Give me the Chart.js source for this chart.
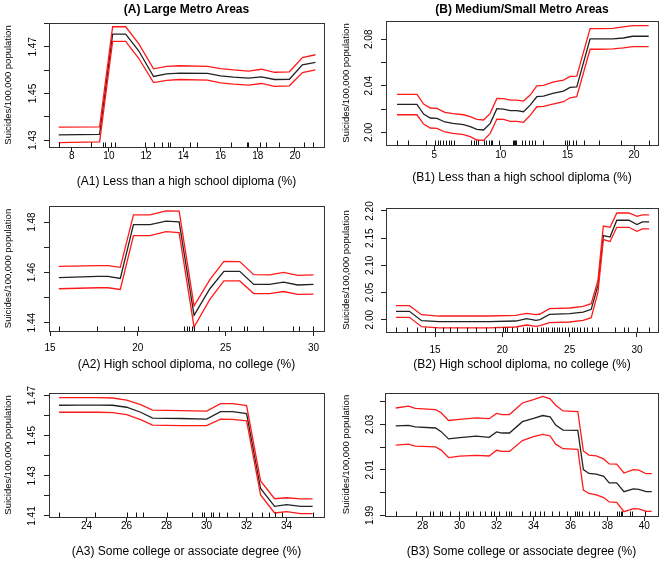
<!DOCTYPE html>
<html><head><meta charset="utf-8">
<script src="https://cdn.jsdelivr.net/npm/chart.js@4.4.1/dist/chart.umd.min.js"></script>
<style>
html,body{margin:0;padding:0;background:#fff;}
#wrap{position:relative;width:666px;height:561px;overflow:hidden;background:#fff;}
canvas{position:absolute;}
</style></head><body><div id="wrap"></div>
<script>
// ---------- DATA ----------
const yAxisTitle = 'Suicides/100,000 population';

// (A1) Large metro, less than high school diploma
const A1_x   = [7.3, 9.5, 10.2, 10.9, 11.6, 12.4, 13.1, 13.8, 15.3, 16.0, 16.7, 17.5, 18.2, 18.9, 19.7, 20.4, 21.1];
const A1_mid = [1.4323, 1.4325, 1.4754, 1.4754, 1.4683, 1.4573, 1.4584, 1.4587, 1.4586, 1.4576, 1.4570, 1.4566, 1.4571, 1.4560, 1.4561, 1.4623, 1.4633];
const A1_up  = [1.4356, 1.4357, 1.4786, 1.4786, 1.4714, 1.4606, 1.4616, 1.4619, 1.4616, 1.4607, 1.4601, 1.4596, 1.4604, 1.4591, 1.4593, 1.4654, 1.4666];
const A1_lo  = [1.4290, 1.4293, 1.4723, 1.4723, 1.4651, 1.4547, 1.4556, 1.4560, 1.4557, 1.4546, 1.4540, 1.4536, 1.4543, 1.4531, 1.4533, 1.4590, 1.4601];
const A1_rug = [7.32, 9.02, 9.70, 9.79, 10.10, 10.33, 11.94, 12.41, 12.87, 13.20, 13.29, 14.36, 14.72, 16.55, 17.44, 17.50, 18.12, 18.43, 19.15, 20.49, 20.99];
const A1_xTicks = [8, 10, 12, 14, 16, 18, 20];
const A1_yTicks = [1.43, 1.44, 1.45, 1.46, 1.47, 1.48];
const A1_yLabels = [1.43, 1.45, 1.47];

// (B1) Medium/small metro, less than high school diploma
const B1_x   = [2.2, 3.7, 4.2, 4.7, 5.2, 5.8, 6.4, 7.2, 7.7, 8.2, 8.7, 9.2, 9.7, 10.2, 10.7, 11.2, 11.7, 12.2, 12.7, 13.2, 13.9, 14.7, 15.2, 15.7, 16.7, 17.4, 18.4, 19.2, 19.9, 21.1];
const B1_mid = [2.0240, 2.0240, 2.0157, 2.0123, 2.0120, 2.0089, 2.0077, 2.0066, 2.0049, 2.0026, 2.0020, 2.0077, 2.0203, 2.0200, 2.0186, 2.0186, 2.0177, 2.0234, 2.0306, 2.0311, 2.0334, 2.0354, 2.0386, 2.0391, 2.0803, 2.0803, 2.0803, 2.0811, 2.0826, 2.0826];
const B1_up  = [2.0326, 2.0326, 2.0243, 2.0209, 2.0206, 2.0171, 2.0160, 2.0151, 2.0134, 2.0111, 2.0106, 2.0163, 2.0291, 2.0289, 2.0277, 2.0277, 2.0269, 2.0320, 2.0400, 2.0403, 2.0431, 2.0449, 2.0480, 2.0483, 2.0891, 2.0891, 2.0894, 2.0906, 2.0917, 2.0917];
const B1_lo  = [2.0151, 2.0151, 2.0071, 2.0037, 2.0034, 2.0003, 1.9991, 1.9980, 1.9963, 1.9934, 1.9931, 1.9991, 2.0114, 2.0111, 2.0094, 2.0094, 2.0086, 2.0146, 2.0220, 2.0223, 2.0243, 2.0263, 2.0297, 2.0306, 2.0714, 2.0714, 2.0717, 2.0726, 2.0737, 2.0737];
const B1_rug = [2.2, 3.0, 4.37, 5.08, 5.25, 5.45, 5.65, 5.85, 6.07, 6.25, 6.5, 7.75, 7.95, 8.1, 8.25, 8.7, 8.9, 9.08, 9.25, 9.33, 9.83, 10.9, 11.0, 11.08, 11.15, 11.58, 11.83, 12.13, 12.35, 12.58, 13.13, 14.85, 14.95, 15.15, 15.38, 15.63, 16.25, 17.38, 19.05, 21.1];
const B1_xTicks = [5, 10, 15, 20];
const B1_yTicks = [2.00, 2.02, 2.04, 2.06, 2.08];
const B1_yLabels = [2.00, 2.04, 2.08];

// (A2) Large metro, high school diploma, no college
const A2_x   = [15.5, 17.7, 18.3, 19.0, 19.75, 20.7, 21.6, 22.35, 23.2, 24.1, 24.9, 25.8, 26.6, 27.5, 28.3, 29.1, 30.0];
const A2_mid = [1.4579, 1.4584, 1.4584, 1.4576, 1.4790, 1.4790, 1.4804, 1.4801, 1.4429, 1.4535, 1.4604, 1.4604, 1.4552, 1.4552, 1.4561, 1.4550, 1.4552];
const A2_up  = [1.4624, 1.4627, 1.4627, 1.4620, 1.4829, 1.4829, 1.4845, 1.4844, 1.4467, 1.4571, 1.4644, 1.4643, 1.4591, 1.4590, 1.4600, 1.4588, 1.4590];
const A2_lo  = [1.4535, 1.4539, 1.4539, 1.4532, 1.4746, 1.4746, 1.4762, 1.4758, 1.4383, 1.4493, 1.4566, 1.4566, 1.4516, 1.4516, 1.4524, 1.4513, 1.4514];
const A2_rug = [15.5, 17.65, 19.2, 20.0, 22.65, 22.78, 22.9, 23.1, 23.2, 24.0, 24.63, 25.3, 26.06, 26.2, 27.13, 28.83, 29.15, 30.0];
const A2_xTicks = [15, 20, 25, 30];
const A2_yTicks = [1.44, 1.45, 1.46, 1.47, 1.48];
const A2_yLabels = [1.44, 1.46, 1.48];

// (B2) Medium/small metro, high school diploma, no college
const B2_x   = [12.1, 13.1, 14.0, 15.3, 17.3, 19.0, 21.0, 21.8, 22.5, 22.8, 23.5, 25.0, 26.0, 26.6, 27.1, 27.5, 28.0, 28.5, 29.4, 30.0, 30.4, 30.9];
const B2_mid = [2.0153, 2.0153, 1.9982, 1.9963, 1.9963, 1.9963, 1.9975, 2.0018, 1.9988, 2.0000, 2.0098, 2.0110, 2.0140, 2.0190, 2.0630, 2.1546, 2.1520, 2.1830, 2.1830, 2.1750, 2.1800, 2.1800];
const B2_up  = [2.0258, 2.0258, 2.0092, 2.0067, 2.0067, 2.0067, 2.0080, 2.0117, 2.0092, 2.0104, 2.0203, 2.0215, 2.0245, 2.0294, 2.0720, 2.1723, 2.1700, 2.1963, 2.1963, 2.1900, 2.1930, 2.1930];
const B2_lo  = [2.0043, 2.0043, 1.9870, 1.9850, 1.9850, 1.9850, 1.9865, 1.9902, 1.9877, 1.9890, 1.9945, 1.9957, 1.9988, 2.0037, 2.0500, 2.1472, 2.1440, 2.1700, 2.1700, 2.1626, 2.1670, 2.1670];
const B2_rug = [12.12, 12.92, 13.66, 14.28, 14.98, 15.6, 16.14, 16.64, 17.38, 18.08, 18.75, 19.44, 20.06, 20.18, 20.31, 20.75, 21.1, 21.55, 21.8, 21.97, 22.17, 22.54, 22.84, 23.04, 23.23, 23.41, 23.66, 23.85, 24.03, 24.2, 24.4, 24.65, 24.9, 25.14, 25.32, 25.52, 25.76, 26.06, 26.26, 26.63, 27.13, 28.37, 29.0, 29.36, 30.0, 30.9];
const B2_xTicks = [15, 20, 25, 30];
const B2_yTicks = [2.00, 2.05, 2.10, 2.15, 2.20];
const B2_yLabels = [2.00, 2.05, 2.10, 2.15, 2.20];

// (A3) Large metro, some college or associate degree
const A3_x   = [22.62, 23.6, 24.6, 25.3, 26.0, 26.7, 27.3, 28.7, 30.0, 30.7, 31.3, 32.0, 32.7, 33.4, 34.0, 34.7, 35.3];
const A3_mid = [1.4652, 1.4653, 1.4653, 1.4652, 1.4642, 1.4617, 1.4588, 1.4586, 1.4583, 1.4620, 1.4620, 1.4610, 1.4237, 1.4148, 1.4157, 1.4148, 1.4148];
const A3_up  = [1.4690, 1.4690, 1.4690, 1.4688, 1.4678, 1.4655, 1.4628, 1.4625, 1.4623, 1.4660, 1.4660, 1.4650, 1.4275, 1.4186, 1.4191, 1.4185, 1.4185];
const A3_lo  = [1.4617, 1.4617, 1.4617, 1.4615, 1.4605, 1.4580, 1.4553, 1.4550, 1.4550, 1.4583, 1.4582, 1.4574, 1.4205, 1.4115, 1.4122, 1.4112, 1.4112];
const A3_rug = [22.62, 24.42, 26.0, 26.45, 26.8, 28.0, 29.27, 29.75, 29.88, 30.24, 30.33, 30.62, 31.0, 31.62, 32.25, 32.75, 33.1, 33.4, 33.78, 35.33];
const A3_xTicks = [24, 26, 28, 30, 32, 34];
const A3_yTicks = [1.41, 1.42, 1.43, 1.44, 1.45, 1.46, 1.47];
const A3_yLabels = [1.41, 1.43, 1.45, 1.47];

// (B3) Medium/small metro, some college or associate degree
const B3_x   = [26.54, 27.23, 27.6, 28.7, 29.0, 29.4, 30.0, 30.9, 31.6, 32.0, 32.3, 32.7, 33.4, 34.0, 34.5, 34.9, 35.2, 35.6, 36.4, 36.7, 37.0, 37.4, 37.8, 38.1, 38.5, 38.9, 39.4, 39.7, 40.1, 40.4];
const B3_mid = [2.0293, 2.0296, 2.0289, 2.0284, 2.0268, 2.0236, 2.0242, 2.0248, 2.0243, 2.0267, 2.0262, 2.0262, 2.0312, 2.0326, 2.0339, 2.0333, 2.0297, 2.0275, 2.0274, 2.0101, 2.0084, 2.0081, 2.0071, 2.0043, 2.0043, 2.0004, 2.0016, 2.0014, 2.0004, 2.0004];
const B3_up  = [2.0372, 2.0380, 2.0370, 2.0365, 2.0351, 2.0317, 2.0322, 2.0329, 2.0325, 2.0348, 2.0343, 2.0343, 2.0394, 2.0409, 2.0423, 2.0412, 2.0384, 2.0359, 2.0356, 2.0183, 2.0165, 2.0161, 2.0148, 2.0126, 2.0125, 2.0086, 2.0101, 2.0099, 2.0083, 2.0083];
const B3_lo  = [2.0209, 2.0213, 2.0204, 2.0201, 2.0187, 2.0154, 2.0160, 2.0164, 2.0161, 2.0186, 2.0181, 2.0181, 2.0229, 2.0246, 2.0256, 2.0249, 2.0213, 2.0193, 2.0190, 2.0011, 1.9996, 1.9990, 1.9978, 1.9959, 1.9957, 1.9916, 1.9929, 1.9928, 1.9917, 1.9917];
const B3_rug = [26.53, 27.64, 28.39, 28.55, 28.96, 29.06, 29.5, 29.98, 30.32, 30.45, 30.75, 31.1, 31.35, 31.7, 31.85, 32.14, 32.53, 32.68, 32.8, 33.35, 33.8, 34.1, 34.35, 34.58, 35.0, 35.38, 35.8, 36.22, 36.34, 36.47, 36.62, 37.03, 37.3, 37.55, 38.52, 38.62, 38.72, 38.81, 39.2, 39.34, 40.02];
const B3_xTicks = [28, 30, 32, 34, 36, 38, 40];
const B3_yTicks = [1.99, 2.00, 2.01, 2.02, 2.03, 2.04];
const B3_yLabels = [1.99, 2.01, 2.03];

// ---------- RENDERING ----------
const FONT = '"Liberation Sans", Arial, Helvetica, sans-serif';
Chart.defaults.font.family = FONT;
Chart.defaults.color = '#000';
const wrap = document.getElementById('wrap');

function rPlugin(p) {
  return {
    id: 'rStyle',
    afterDatasetsDraw(chart) {
      const ctx = chart.ctx, a = chart.chartArea, xs = chart.scales.x, ys = chart.scales.y;
      ctx.save();
      ctx.strokeStyle = '#111'; ctx.lineWidth = 1;
      ctx.beginPath();
      for (const v of p.rug) {
        const px = Math.round(xs.getPixelForValue(v)) + 0.5;
        ctx.moveTo(px, a.bottom); ctx.lineTo(px, a.bottom - 4.5);
      }
      ctx.stroke();
      ctx.strokeStyle = '#333';
      ctx.strokeRect(Math.round(a.left) + 0.5, Math.round(a.top) + 0.5, Math.round(a.right - a.left), Math.round(a.bottom - a.top));
      ctx.fillStyle = '#000';
      ctx.font = '10px ' + FONT;
      ctx.textAlign = 'center'; ctx.textBaseline = 'middle';
      for (const v of p.yLabels) {
        const py = ys.getPixelForValue(v);
        ctx.save();
        ctx.translate(a.left - p.yLabelOffset, py);
        ctx.rotate(-Math.PI / 2);
        ctx.fillText(v.toFixed(2), 0, 0);
        ctx.restore();
      }
      ctx.restore();
    }
  };
}

function makePanel(p) {
  const cv = document.createElement('canvas');
  cv.width = p.cw; cv.height = p.ch;
  cv.style.left = p.cx + 'px'; cv.style.top = p.cy + 'px';
  cv.style.width = p.cw + 'px'; cv.style.height = p.ch + 'px';
  wrap.appendChild(cv);
  const yW = p.plot[0] - p.cx;
  const xH = p.cy + p.ch - p.plot[3];
  const titleH = p.title ? (12 * 1.2 + p.titlePad[0] + p.titlePad[1]) : 0;
  const pts = arr => p.x.map((v, i) => ({ x: v, y: arr[i] }));
  const ds = (arr, col) => ({ data: pts(arr), borderColor: col, borderWidth: 1.3, pointRadius: 0, tension: 0, fill: false });
  new Chart(cv, {
    type: 'line',
    data: { datasets: [ds(p.up, '#ff1a1a'), ds(p.lo, '#ff1a1a'), ds(p.mid, '#222')] },
    options: {
      responsive: false, animation: false, devicePixelRatio: 1,
      events: [],
      layout: { padding: { left: 0, right: p.cx + p.cw - p.plot[2], top: p.plot[1] - p.cy - titleH, bottom: 0 } },
      plugins: {
        legend: { display: false }, tooltip: { enabled: false },
        title: p.title ? { display: true, text: p.title, fullSize: false, color: '#000',
          font: { size: 12, weight: 'bold', lineHeight: 1.2 }, padding: { top: p.titlePad[0], bottom: p.titlePad[1] } } : { display: false }
      },
      scales: {
        x: {
          type: 'linear', min: p.xr[0], max: p.xr[1],
          afterBuildTicks: s => { s.ticks = p.xTicks.map(v => ({ value: v })); },
          afterFit: s => { s.height = xH; s.paddingLeft = 0; s.paddingRight = 0; },
          ticks: { font: { size: 10 }, color: '#000', padding: p.xTickPad, maxRotation: 0, minRotation: 0, autoSkip: false, callback: v => String(v) },
          grid: { drawOnChartArea: false, drawTicks: true, tickLength: 5, color: '#222', tickColor: '#222' },
          border: { display: false },
          title: { display: true, text: p.xTitle, color: '#000', font: { size: 12, lineHeight: 1 }, padding: { top: 0, bottom: p.xTitlePad } }
        },
        y: {
          type: 'linear', min: p.yr[0], max: p.yr[1],
          afterBuildTicks: s => { s.ticks = p.yTicks.map(v => ({ value: v })); },
          afterFit: s => { s.width = yW; s.paddingTop = 0; s.paddingBottom = 0; },
          ticks: { callback: () => '', padding: 0 },
          grid: { drawOnChartArea: false, drawTicks: true, tickLength: 5, color: '#222', tickColor: '#222' },
          border: { display: false },
          title: { display: true, text: yAxisTitle, color: '#000', font: { size: 9.5, lineHeight: 1 }, padding: { top: p.yTitlePad, bottom: 0 } }
        }
      }
    },
    plugins: [rPlugin(p)]
  });
}

const panels = [
  { cx: 0, cy: 0, cw: 333, ch: 188, plot: [49, 23, 324, 147], title: '(A) Large Metro Areas', titlePad: [2.8, 5.8],
    x: A1_x, mid: A1_mid, up: A1_up, lo: A1_lo, rug: A1_rug, xTicks: A1_xTicks, yTicks: A1_yTicks, yLabels: A1_yLabels,
    xr: [6.78, 21.56], yr: [1.4271, 1.4802], xTitle: '(A1) Less than a high school diploma (%)',
    xTickPad: -2, xTitlePad: 0.3, yTitlePad: 3.55, yLabelOffset: 15.5 },
  { cx: 333, cy: 0, cw: 333, ch: 188, plot: [386, 21, 658, 145], title: '(B) Medium/Small Metro Areas', titlePad: [2.8, 3.8],
    x: B1_x, mid: B1_mid, up: B1_up, lo: B1_lo, rug: B1_rug, xTicks: B1_xTicks, yTicks: B1_yTicks, yLabels: B1_yLabels,
    xr: [1.375, 21.8], yr: [1.9891, 2.0957], xTitle: '(B1) Less than a high school diploma (%)',
    xTickPad: -1, xTitlePad: 4, yTitlePad: 8.55, yLabelOffset: 17 },
  { cx: 0, cy: 188, cw: 333, ch: 185, plot: [49, 206, 324, 331],
    x: A2_x, mid: A2_mid, up: A2_up, lo: A2_lo, rug: A2_rug, xTicks: A2_xTicks, yTicks: A2_yTicks, yLabels: A2_yLabels,
    xr: [14.94, 30.6], yr: [1.4367, 1.4864], xTitle: '(A2) High school diploma, no college (%)',
    xTickPad: 6, xTitlePad: 2, yTitlePad: 3.55, yLabelOffset: 16.5 },
  { cx: 333, cy: 188, cw: 333, ch: 185, plot: [386, 208, 658, 332],
    x: B2_x, mid: B2_mid, up: B2_up, lo: B2_lo, rug: B2_rug, xTicks: B2_xTicks, yTicks: B2_yTicks, yLabels: B2_yLabels,
    xr: [11.36, 31.56], yr: [1.9773, 2.2055], xTitle: '(B2) High school diploma, no college (%)',
    xTickPad: 7, xTitlePad: 2, yTitlePad: 8.55, yLabelOffset: 16 },
  { cx: 0, cy: 374, cw: 333, ch: 187, plot: [49, 393, 324, 517],
    x: A3_x, mid: A3_mid, up: A3_up, lo: A3_lo, rug: A3_rug, xTicks: A3_xTicks, yTicks: A3_yTicks, yLabels: A3_yLabels,
    xr: [22.12, 35.87], yr: [1.4095, 1.4713], xTitle: '(A3) Some college or associate degree (%)',
    xTickPad: -1.3, xTitlePad: 3.3, yTitlePad: 3.55, yLabelOffset: 16.5 },
  { cx: 333, cy: 374, cw: 333, ch: 187, plot: [385, 393, 658, 516],
    x: B3_x, mid: B3_mid, up: B3_up, lo: B3_lo, rug: B3_rug, xTicks: B3_xTicks, yTicks: B3_yTicks, yLabels: B3_yLabels,
    xr: [25.96, 40.74], yr: [1.9897, 2.0438], xTitle: '(B3) Some college or associate degree (%)',
    xTickPad: -0.3, xTitlePad: 3.3, yTitlePad: 8.55, yLabelOffset: 14.5 }
];
panels.forEach(makePanel);
</script>
</body></html>
